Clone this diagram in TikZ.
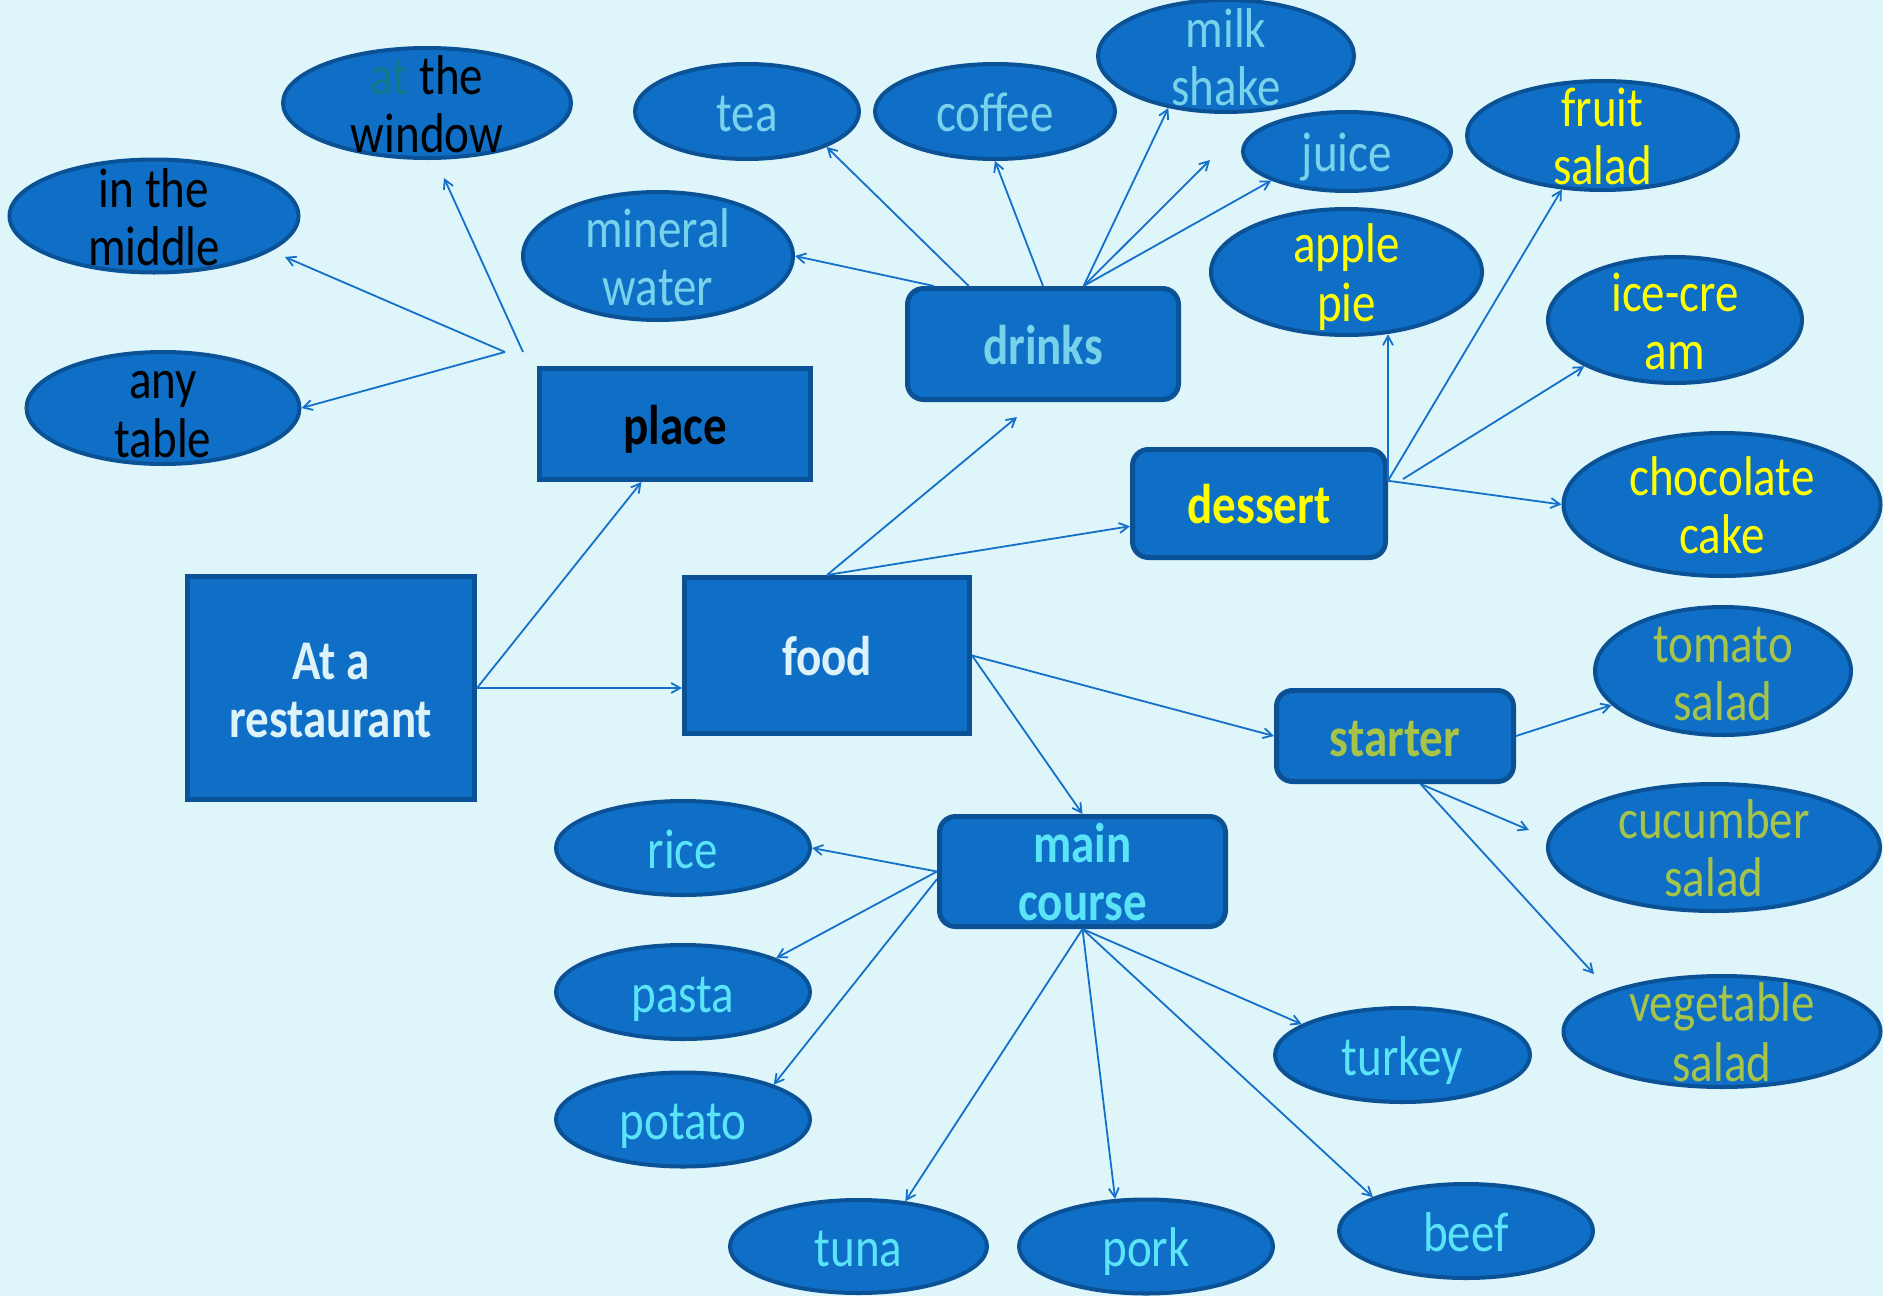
\documentclass[tikz,border=0pt]{standalone}
\usepackage{fontspec}
\setmainfont{Carlito}[FakeStretch=0.84]
\usetikzlibrary{arrows.meta,shapes.geometric,calc}
\definecolor{bg}{HTML}{DEF5F9}
\definecolor{nodefill}{HTML}{0F6FC6}
\definecolor{nodeborder}{HTML}{0B5195}
\definecolor{arrowc}{HTML}{1470C9}
\definecolor{paletxt}{HTML}{DDF3F9}
\definecolor{drinktxt}{HTML}{78D2EA}
\definecolor{desserttxt}{HTML}{FFFF00}
\definecolor{startertxt}{HTML}{A7C44A}
\definecolor{maintxt}{HTML}{5BE4F8}
\definecolor{atteal}{HTML}{107B8E}
\newcommand{\ls}{\rule[-9pt]{0pt}{58pt}}
\begin{document}
\begin{tikzpicture}[x=1pt,y=-1pt,
  oval/.style={ellipse, fill=nodefill, draw=nodeborder, line width=4pt, inner sep=-32pt, align=center, font=\fontsize{56}{58}\selectfont},
  sqbox/.style={rectangle, fill=nodefill, draw=nodeborder, line width=5pt, inner sep=-10pt, align=center, font=\bfseries\fontsize{56}{58}\selectfont},
  rbox/.style={sqbox, rounded corners=16pt},
  conn/.style={draw=arrowc, line width=1.8pt, -{Straight Barb[length=9pt,width=10pt]}}
]
\fill[bg] (0,0) rectangle (1883,1296);
\useasboundingbox (0,0) rectangle (1883,1296);

% boxes
\node[sqbox, minimum width=287, minimum height=223, text=paletxt] (rest) at (331,688) {\ls At a\\\ls restaurant};
\node[sqbox, minimum width=285, minimum height=156, text=paletxt] (food) at (827,655.5) {\ls food};
\node[sqbox, minimum width=271, minimum height=111, text=black] (place) at (675,424) {\ls place};
\node[rbox, minimum width=271, minimum height=111, text=drinktxt] (drinks) at (1043,344) {\ls drinks};
\node[rbox, minimum width=253, minimum height=108, text=desserttxt] (dessert) at (1259,503.5) {\ls dessert};
\node[rbox, minimum width=237, minimum height=91, text=startertxt] (starter) at (1395,736) {\ls starter};
\node[rbox, minimum width=286, minimum height=110, text=maintxt] (main) at (1082.5,871.5) {\ls main\\\ls course};

% place items
\node[oval, minimum width=288, minimum height=110, text=black] (window) at (427,103) {\ls\textcolor{atteal}{at} the\\\ls window};
\node[oval, minimum width=289, minimum height=113, text=black] (middle) at (154,216) {\ls in the\\\ls middle};
\node[oval, minimum width=273, minimum height=112, text=black] (anytable) at (163,408) {\ls any\\\ls table};

% drinks items
\node[oval, minimum width=270, minimum height=128, text=drinktxt] (mineral) at (658,256) {\ls mineral\\\ls water};
\node[oval, minimum width=224, minimum height=95, text=drinktxt] (tea) at (747,111.5) {\ls tea};
\node[oval, minimum width=240, minimum height=95, text=drinktxt] (coffee) at (995,111.5) {\ls coffee};
\node[oval, minimum width=256, minimum height=112, text=drinktxt] (milk) at (1226,56) {\ls milk\\\ls shake};
\node[oval, minimum width=208, minimum height=79, text=drinktxt] (juice) at (1347,151.5) {\ls juice};

% dessert items
\node[oval, minimum width=271, minimum height=126, text=desserttxt] (apple) at (1346.5,272) {\ls apple\\\ls pie};
\node[oval, minimum width=271, minimum height=109, text=desserttxt] (fruit) at (1602.5,135.5) {\ls fruit\\\ls salad};
\node[oval, minimum width=254, minimum height=126, text=desserttxt] (ice) at (1675,320) {\ls ice-cre\\\ls am};
\node[oval, minimum width=317, minimum height=143, text=desserttxt] (choc) at (1722,504.5) {\ls chocolate\\\ls cake};

% starter items
\node[oval, minimum width=256, minimum height=128, text=startertxt] (tomato) at (1723,671) {\ls tomato\\\ls salad};
\node[oval, minimum width=332, minimum height=127, text=startertxt] (cucumber) at (1714,847.5) {\ls cucumber\\\ls salad};
\node[oval, minimum width=317, minimum height=111, text=startertxt] (vegetable) at (1722,1031.5) {\ls vegetable\\\ls salad};

% main course items
\node[oval, minimum width=254, minimum height=94, text=maintxt] (rice) at (683,848) {\ls rice};
\node[oval, minimum width=254, minimum height=94, text=maintxt] (pasta) at (683,992) {\ls pasta};
\node[oval, minimum width=254, minimum height=94, text=maintxt] (potato) at (683,1119.5) {\ls potato};
\node[oval, minimum width=255, minimum height=94, text=maintxt] (turkey) at (1402.5,1055) {\ls turkey};
\node[oval, minimum width=257, minimum height=93, text=maintxt] (tuna) at (858.5,1246.5) {\ls tuna};
\node[oval, minimum width=254, minimum height=94, text=maintxt] (pork) at (1146,1246.5) {\ls pork};
\node[oval, minimum width=254, minimum height=94, text=maintxt] (beef) at (1466,1231) {\ls beef};

% free coordinates
\coordinate (placeA) at (505,352);
\coordinate (placeB) at (523,352);
\coordinate (windowEnd) at (444,178);
\coordinate (middleEnd) at (285,257);
\coordinate (drinksEnd) at (1017,417);
\coordinate (drinkFree) at (1210,160);
\coordinate (iceStart) at (1403,479);
\coordinate (cucEnd) at (1529,830);
\coordinate (vegEnd) at (1594,974);

% connectors
\draw[conn] (rest.east) -- (place.-120);
\draw[conn] (rest.east) -- (rest.east -| food.west);
\draw[conn] (placeB) -- (windowEnd);
\draw[conn] (placeA) -- (middleEnd);
\draw[conn] (placeA) -- (anytable.east);

\draw[conn] (food.north) -- (drinksEnd);
\draw[conn] (food.north) -- (dessert.190);
\draw[conn] (food.east) -- (starter.west);
\draw[conn] (food.east) -- (main.north);

\draw[conn] (drinks.152) -- (mineral.east);
\draw[conn] (drinks.142) -- (tea.-24);
\draw[conn] (drinks.north) -- (coffee.south);
\draw[conn] (drinks.55) -- (milk.-138);
\draw[conn] (drinks.55) -- (drinkFree);
\draw[conn] (drinks.55) -- (juice.-159);

\draw[conn] (dessert.10) -- (dessert.10 |- apple.-58);
\draw[conn] (dessert.10) -- (fruit.-127);
\draw[conn] (iceStart) -- (ice.-153);
\draw[conn] (dessert.10) -- (choc.west);

\draw[conn] (starter.east) -- (tomato.-163);
\draw[conn] (starter.-62) -- (cucEnd);
\draw[conn] (starter.-62) -- (vegEnd);

\draw[conn] (main.west) -- (rice.east);
\draw[conn] (main.west) -- (pasta.20);
\draw[conn] (main.183) -- (potato.21);
\draw[conn] (main.south) -- (tuna.44);
\draw[conn] (main.south) -- (pork.123);
\draw[conn] (main.south) -- (turkey.163);
\draw[conn] (main.south) -- (beef.160);
\end{tikzpicture}
\end{document}
